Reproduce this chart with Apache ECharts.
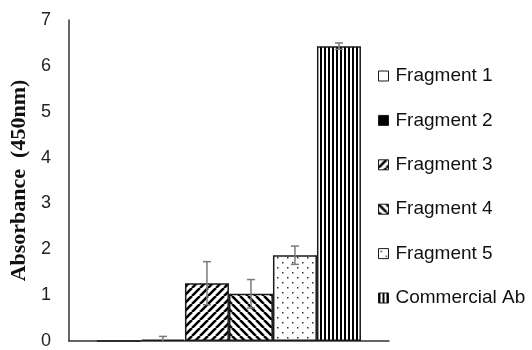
<!DOCTYPE html>
<html>
<head>
<meta charset="utf-8">
<script src="https://cdn.jsdelivr.net/npm/echarts@6/dist/echarts.min.js"></script>
<style>
  html, body { margin: 0; padding: 0; background: #fff; }
  #chart { width: 532px; height: 350px; }
</style>
</head>
<body>
<div id="chart"></div>
<script>
// Absorbance readings at 450 nm, one group of bars
const categories = ['Sample'];
const seriesNames = ['Fragment 1', 'Fragment 2', 'Fragment 3', 'Fragment 4', 'Fragment 5', 'Commercial Ab'];
const means = [0.0, 0.03, 1.26, 1.03, 1.87, 6.43];
const errors = [0.0, 0.07, 0.47, 0.31, 0.2, 0.07];
const yTicks = [0, 1, 2, 3, 4, 5, 6, 7];

const BAR_W = 44;

// Fill patterns drawn on small tiles
function tile(w, h, draw) {
  const c = document.createElement('canvas');
  c.width = w; c.height = h;
  const ctx = c.getContext('2d');
  ctx.fillStyle = '#fff';
  ctx.fillRect(0, 0, w, h);
  draw(ctx, w, h);
  return { image: c, repeat: 'repeat' };
}
function diag(up) {
  return tile(8, 8, (ctx, w, h) => {
    ctx.strokeStyle = '#000';
    ctx.lineWidth = 2.6;
    for (let k = -1; k <= 1; k++) {
      ctx.beginPath();
      if (up) { ctx.moveTo(k * w, h); ctx.lineTo(k * w + w, 0); }
      else { ctx.moveTo(k * w, 0); ctx.lineTo(k * w + w, h); }
      ctx.stroke();
    }
  });
}
const dots = tile(10, 10, (ctx) => {
  ctx.fillStyle = '#333';
  ctx.fillRect(2, 2, 1.5, 1.5);
  ctx.fillRect(7, 7, 1.5, 1.5);
});
const vstripes = tile(4, 4, (ctx) => {
  ctx.fillStyle = '#000';
  ctx.fillRect(0, 0, 2, 4);
});
const fills = ['#ffffff', '#000000', diag(true), diag(false), dots, vstripes];

const barSeries = seriesNames.map((name, i) => ({
  name: name,
  type: 'bar',
  barWidth: BAR_W,
  barGap: '0%',
  data: [means[i]],
  itemStyle: { color: fills[i], borderColor: '#1a1a1a', borderWidth: 1.5 },
  emphasis: { disabled: true },
  z: 2
}));

const errData = means.map((m, i) => [0, m, errors[i], i]);

const errSeries = {
  type: 'custom',
  data: errData,
  clip: true,
  z: 5,
  silent: true,
  renderItem: function (params, api) {
    const m = api.value(1), e = api.value(2), idx = api.value(3);
    if (e <= 0) return null;
    const top = api.coord([0, m + e]);
    const bot = api.coord([0, m - e]);
    const x = top[0] + (idx - (seriesNames.length - 1) / 2) * BAR_W;
    const cap = 4;
    const st = { stroke: '#7a7a7a', lineWidth: 1.5 };
    return {
      type: 'group',
      children: [
        { type: 'line', shape: { x1: x, y1: top[1], x2: x, y2: bot[1] }, style: st },
        { type: 'line', shape: { x1: x - cap, y1: top[1], x2: x + cap, y2: top[1] }, style: st },
        { type: 'line', shape: { x1: x - cap, y1: bot[1], x2: x + cap, y2: bot[1] }, style: st }
      ]
    };
  }
};

const chart = echarts.init(document.getElementById('chart'), null, { renderer: 'canvas' });
chart.setOption({
  animation: false,
  backgroundColor: '#ffffff',
  grid: { left: 65, right: 143, top: 20, bottom: 8.5, containLabel: false },
  legend: {
    orient: 'vertical',
    left: 373,
    top: 61,
    itemWidth: 10,
    itemHeight: 10,
    itemGap: 24.4,
    icon: 'rect',
    data: seriesNames,
    selectedMode: false,
    itemStyle: { borderColor: '#1a1a1a', borderWidth: 1 },
    textStyle: { fontFamily: 'Liberation Sans, Arial, sans-serif', fontSize: 19, color: '#111', lineHeight: 20, padding: [0, 0, 0, 2] }
  },
  xAxis: {
    type: 'category',
    data: categories,
    axisLine: { show: true, lineStyle: { color: '#333', width: 1.5 } },
    axisTick: { show: false },
    axisLabel: { show: false },
    splitLine: { show: false }
  },
  yAxis: {
    type: 'value',
    min: yTicks[0],
    max: yTicks[yTicks.length - 1],
    interval: 1,
    name: 'Absorbance  (450nm)',
    nameLocation: 'middle',
    nameRotate: 90,
    nameGap: 31,
    nameTextStyle: { fontFamily: 'Liberation Serif, Times New Roman, serif', fontWeight: 'bold', fontSize: 22, color: '#111' },
    axisLine: { show: true, lineStyle: { color: '#333', width: 1.5 } },
    axisTick: { show: false },
    splitLine: { show: false },
    axisLabel: { fontFamily: 'Liberation Sans, Arial, sans-serif', fontSize: 18, color: '#222', margin: 18 }
  },
  series: barSeries.concat([errSeries])
});
</script>
</body>
</html>
